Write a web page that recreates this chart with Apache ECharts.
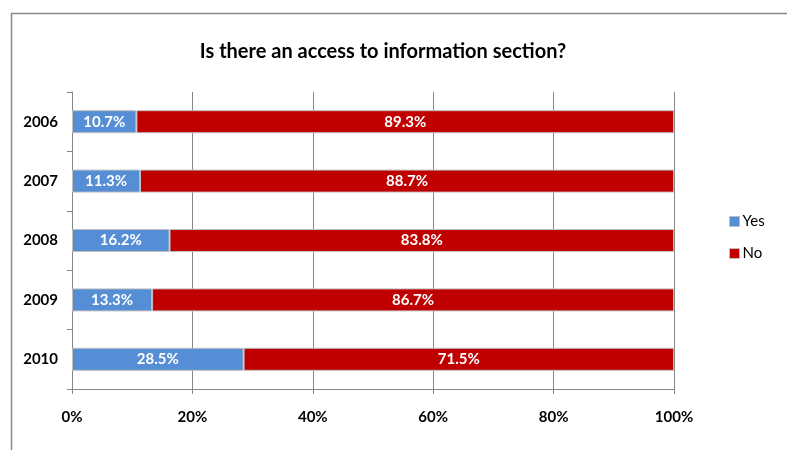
<!DOCTYPE html>
<html>
<head>
<meta charset="utf-8">
<script src="https://cdn.jsdelivr.net/npm/echarts@6/dist/echarts.min.js"></script>
<style>
  html, body { margin: 0; padding: 0; background: #fff; }
  #chart { width: 787px; height: 450px; }
</style>
</head>
<body>
<div id="chart"></div>
<script>
// Survey years and the share of answers for each option (percent)
const years = ['2006', '2007', '2008', '2009', '2010'];
const yesValues = [10.7, 11.3, 16.2, 13.3, 28.5];
const noValues = [89.3, 88.7, 83.8, 86.7, 71.5];
const xTicks = [0, 20, 40, 60, 80, 100];

const FONT = 'Lato, "Open Sans", sans-serif';
const chart = echarts.init(document.getElementById('chart'));

const barLabel = {
  show: true,
  position: 'inside',
  color: '#fff',
  fontFamily: FONT,
  fontWeight: 'bold',
  fontSize: 15,
  formatter: p => p.value.toFixed(1) + '%'
};

chart.setOption({
  animation: false,
  title: {
    text: 'Is there an access to information section?',
    left: 378,
    textAlign: 'center',
    top: 37,
    textStyle: { fontFamily: FONT, fontWeight: 'bold', fontSize: 20, color: '#000' }
  },
  legend: {
    orient: 'vertical',
    left: 724,
    top: 209,
    itemWidth: 10,
    itemHeight: 10,
    itemGap: 17,
    icon: 'rect',
    textStyle: { fontFamily: FONT, fontSize: 15, color: '#000', padding: [0, 0, 0, -2] },
    data: [
      { name: 'Yes', itemStyle: { borderColor: '#bfbfbf', borderWidth: 1 } },
      { name: 'No', itemStyle: { borderColor: '#bfbfbf', borderWidth: 1 } }
    ]
  },
  grid: { left: 72, right: 113, top: 92, bottom: 61, containLabel: false },
  xAxis: {
    type: 'value',
    min: xTicks[0],
    max: xTicks[xTicks.length - 1],
    interval: 20,
    axisLine: { show: true, lineStyle: { color: '#868686', width: 1 } },
    axisTick: { show: true, length: 5, lineStyle: { color: '#868686' } },
    splitLine: { show: true, lineStyle: { color: '#868686', width: 1 } },
    axisLabel: {
      formatter: '{value}%',
      margin: 21,
      fontFamily: FONT, fontWeight: 'bold', fontSize: 15, color: '#000'
    }
  },
  yAxis: {
    type: 'category',
    data: years,
    inverse: true,
    axisLine: { show: true, lineStyle: { color: '#868686', width: 1 } },
    axisTick: { show: true, length: 5, lineStyle: { color: '#868686' } },
    axisLabel: { margin: 14, fontFamily: FONT, fontWeight: 'bold', fontSize: 15, color: '#000' }
  },
  series: [
    {
      name: 'Yes', type: 'bar', stack: 'total', data: yesValues,
      barWidth: 23,
      itemStyle: { color: '#558ED5', borderColor: '#bfbfbf', borderWidth: 1 },
      label: barLabel
    },
    {
      name: 'No', type: 'bar', stack: 'total', data: noValues,
      barWidth: 23,
      itemStyle: { color: '#C00000', borderColor: '#bfbfbf', borderWidth: 1 },
      label: barLabel
    }
  ],
  graphic: [{
    type: 'rect',
    shape: { x: 11.5, y: 13.5, width: 900, height: 600 },
    style: { fill: 'none', stroke: '#898989', lineWidth: 1.5 },
    silent: true
  }]
});
</script>
</body>
</html>
